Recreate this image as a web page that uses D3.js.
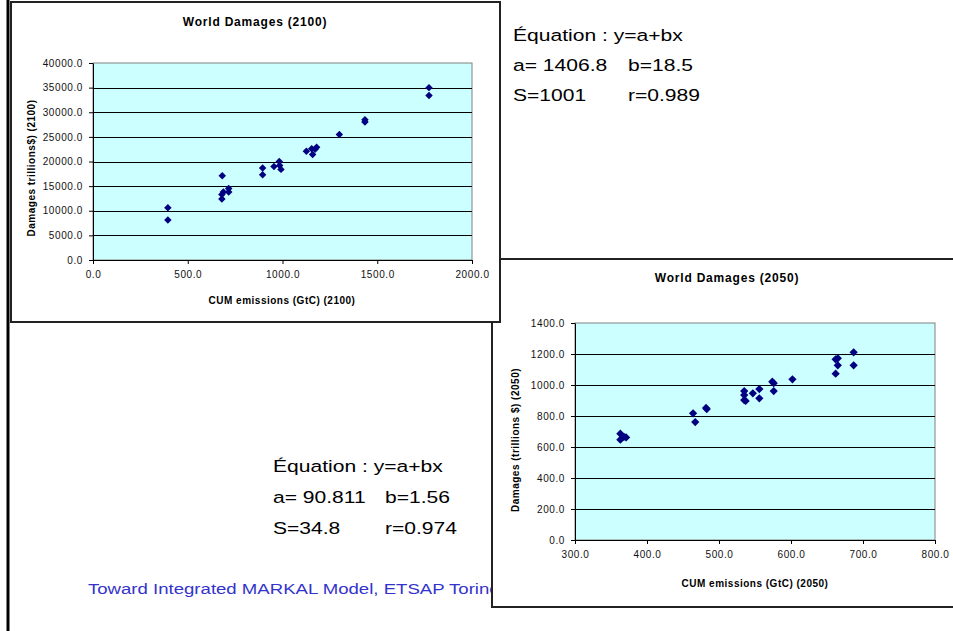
<!DOCTYPE html>
<html>
<head>
<meta charset="utf-8">
<script src="https://cdn.jsdelivr.net/npm/d3@7"></script>
<style>
  body { margin: 0; background: #fff; }
  text { font-family: "Liberation Sans", Arial, sans-serif; }
</style>
</head>
<body>
<svg width="953" height="631"></svg>
<script>
// data
var x2100 = [395, 395, 682, 680, 688, 680, 716, 716, 895, 895, 955, 983, 985, 992, 1126, 1154, 1159, 1172, 1180, 1300, 1435, 1435, 1773, 1773];
var y2100 = [10600, 8100, 17100, 13300, 13800, 12400, 14500, 13800, 18700, 17300, 19000, 20000, 19200, 18400, 22100, 22600, 21400, 22500, 22900, 25500, 28500, 28000, 35000, 33400];
var xTicks2100 = [0, 500, 1000, 1500, 2000];
var yTicks2100 = [0, 5000, 10000, 15000, 20000, 25000, 30000, 35000, 40000];

var x2050 = [363, 363, 368, 371, 464, 467, 482, 483, 535, 535, 535, 537, 547, 556, 556, 574, 576, 576, 602, 662, 665, 665, 662, 687, 687];
var y2050 = [686, 647, 666, 662, 817, 761, 852, 845, 961, 935, 903, 897, 946, 974, 914, 1021, 1012, 961, 1037, 1166, 1172, 1127, 1073, 1211, 1127];
var xTicks2050 = [300, 400, 500, 600, 700, 800];
var yTicks2050 = [0, 200, 400, 600, 800, 1000, 1200, 1400];

var eq2100 = [["Équation : y=a+bx", ""], ["a= 1406.8", "b=18.5"], ["S=1001", "r=0.989"]];
var eq2050 = [["Équation : y=a+bx", ""], ["a= 90.811", "b=1.56"], ["S=34.8", "r=0.974"]];
var footer = "Toward Integrated MARKAL Model, ETSAP Torino";

var svg = d3.select("svg");
var fmt = d3.format(".1f");
var stretch = 1.24;

// stretched text like the slide
function slideText(g, x, y, str, size, color) {
    g.append("text")
        .attr("transform", "translate(" + x + "," + y + ") scale(" + stretch + ",1)")
        .attr("font-size", size)
        .attr("fill", color)
        .text(str);
}

// left slide rule
svg.append("line")
    .attr("x1", 8).attr("x2", 8).attr("y1", 0).attr("y2", 631)
    .attr("stroke", "#000").attr("stroke-width", 3);

// equation block for 2050 and footer (under the 2050 chart)
var eqB = svg.append("g");
eq2050.forEach(function (row, i) {
    slideText(eqB, 273, 472 + i * 31, row[0], 17, "#000");
    if (row[1]) slideText(eqB, 385, 472 + i * 31, row[1], 17, "#000");
});
slideText(svg, 88, 594, footer, 15, "#3333cc");

function drawChart(o) {
    var g = svg.append("g");
    g.append("rect")
        .attr("x", o.box[0]).attr("y", o.box[1])
        .attr("width", o.box[2]).attr("height", o.box[3])
        .attr("fill", "#fff").attr("stroke", "#222").attr("stroke-width", 2);

    var x = d3.scaleLinear().domain(o.xDom).range([o.plot[0], o.plot[2]]);
    var y = d3.scaleLinear().domain(o.yDom).range([o.plot[3], o.plot[1]]);

    g.append("rect")
        .attr("x", o.plot[0]).attr("y", o.plot[1])
        .attr("width", o.plot[2] - o.plot[0]).attr("height", o.plot[3] - o.plot[1])
        .attr("fill", "#ccffff").attr("stroke", "#808080");

    // grid lines
    g.selectAll(".grid")
        .data(o.yTicks.slice(1, -1))
        .enter().append("line")
        .attr("x1", o.plot[0]).attr("x2", o.plot[2])
        .attr("y1", function (d) { return Math.round(y(d)) + 0.5; })
        .attr("y2", function (d) { return Math.round(y(d)) + 0.5; })
        .attr("stroke", "#000");

    var ax = g.append("g")
        .attr("transform", "translate(0," + o.plot[3] + ")")
        .call(d3.axisBottom(x).tickValues(o.xTicks).tickFormat(fmt).tickSize(4).tickSizeOuter(0).tickPadding(7));
    var ay = g.append("g")
        .attr("transform", "translate(" + o.plot[0] + ",0)")
        .call(d3.axisLeft(y).tickValues(o.yTicks).tickFormat(fmt).tickSize(4).tickSizeOuter(0).tickPadding(6));
    [ax, ay].forEach(function (a) {
        a.selectAll("text").attr("font-size", 10).attr("letter-spacing", 0.6)
            .attr("font-family", "Liberation Sans, Arial, sans-serif").attr("fill", "#111");
        a.selectAll("line").attr("stroke", "#000");
        a.select(".domain").attr("stroke", "#000");
    });

    g.append("text")
        .attr("x", o.title[0]).attr("y", o.title[1])
        .attr("text-anchor", "middle").attr("font-size", 12).attr("font-weight", "bold")
        .attr("letter-spacing", 0.8)
        .text(o.title[2]);
    g.append("text")
        .attr("x", o.xTitle[0]).attr("y", o.xTitle[1])
        .attr("text-anchor", "middle").attr("font-size", 10).attr("font-weight", "bold")
        .attr("letter-spacing", 0.5)
        .text(o.xTitle[2]);
    g.append("text")
        .attr("transform", "translate(" + o.yTitle[0] + "," + o.yTitle[1] + ") rotate(-90)")
        .attr("text-anchor", "middle").attr("font-size", 10).attr("font-weight", "bold")
        .attr("letter-spacing", 0.5)
        .text(o.yTitle[2]);

    var sym = d3.symbol().type(d3.symbolSquare).size(o.mark);
    g.selectAll(".pt")
        .data(o.xs)
        .enter().append("path")
        .attr("d", sym)
        .attr("fill", "#000080")
        .attr("transform", function (d, i) {
            return "translate(" + x(d) + "," + y(o.ys[i]) + ") rotate(45)";
        });
}

// 2050 chart (behind)
drawChart({
    box: [492, 259, 480, 348],
    plot: [575, 323, 935, 540],
    xDom: [300, 800], yDom: [0, 1400],
    xTicks: xTicks2050, yTicks: yTicks2050,
    xs: x2050, ys: y2050, mark: 34,
    title: [727, 282, "World Damages (2050)"],
    xTitle: [755, 587, "CUM emissions (GtC) (2050)"],
    yTitle: [519, 440, "Damages (trillions $) (2050)"]
});

// 2100 chart (front)
drawChart({
    box: [11, 2, 489, 320],
    plot: [93, 63, 472, 260],
    xDom: [0, 2000], yDom: [0, 40000],
    xTicks: xTicks2100, yTicks: yTicks2100,
    xs: x2100, ys: y2100, mark: 28,
    title: [255, 26, "World Damages (2100)"],
    xTitle: [282, 304, "CUM emissions (GtC) (2100)"],
    yTitle: [35, 168, "Damages trillions$) (2100)"]
});

// equation block for 2100
var eqA = svg.append("g");
eq2100.forEach(function (row, i) {
    slideText(eqA, 513, 41 + i * 30, row[0], 17, "#000");
    if (row[1]) slideText(eqA, 628, 41 + i * 30, row[1], 17, "#000");
});
</script>
</body>
</html>
